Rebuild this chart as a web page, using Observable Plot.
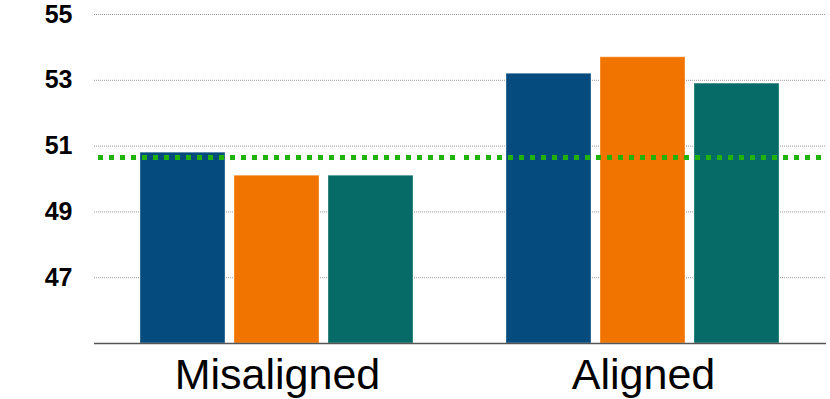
<!DOCTYPE html>
<html>
<head>
<meta charset="utf-8">
<script src="https://cdn.jsdelivr.net/npm/d3@7"></script>
<script src="https://cdn.jsdelivr.net/npm/@observablehq/plot@0.6"></script>
<style>
  html, body { margin: 0; padding: 0; background: #fff; }
</style>
</head>
<body>
<div id="chart"></div>
<script>
const groups = ["Misaligned", "Aligned"];
const series = ["Series 1", "Series 2", "Series 3"];
const misalignedValues = [50.8, 50.1, 50.1];
const alignedValues = [53.2, 53.7, 52.9];
const referenceValue = 50.65;
const yTicks = [47, 49, 51, 53, 55];
const yDomain = [45, 55];
const colors = ["#054b7d", "#f27400", "#066b66"];

const rows = [];
[misalignedValues, alignedValues].forEach((vals, gi) => {
  vals.forEach((v, si) => rows.push({group: groups[gi], series: series[si], value: v}));
});

const chart = Plot.plot({
  width: 830,
  height: 399,
  marginTop: 14,
  marginRight: 4,
  marginBottom: 56,
  marginLeft: 93,
  style: {fontFamily: "'Liberation Sans', Arial, Helvetica, sans-serif", background: "white", color: "black"},
  fx: {domain: groups, paddingInner: 0, paddingOuter: 0, label: null},
  x: {domain: series, paddingInner: 0.092, paddingOuter: 0.49, axis: null},
  y: {domain: yDomain, label: null},
  color: {domain: series, range: colors},
  marks: [
    Plot.ruleY(yTicks, {stroke: "#999", strokeDasharray: "1,1", strokeWidth: 1}),
    Plot.barY(rows, {fx: "group", x: "series", y1: yDomain[0], y2: "value", fill: "series", stroke: "#ffffff", strokeOpacity: 0.35, strokeWidth: 1}),
    Plot.ruleY([yDomain[0]], {stroke: "#555", strokeWidth: 1.5}),
    Plot.ruleY([referenceValue], {stroke: "#22b20c", strokeWidth: 5, strokeDasharray: "5,6", strokeDashoffset: -4}),
    Plot.axisY({ticks: yTicks, tickSize: 0, tickPadding: 22, fontSize: 25, fontWeight: "bold", label: null}),
    Plot.axisFx({anchor: "bottom", tickSize: 0, tickPadding: 15, fontSize: 43, label: null})
  ]
});
document.getElementById("chart").appendChild(chart);
</script>
</body>
</html>
